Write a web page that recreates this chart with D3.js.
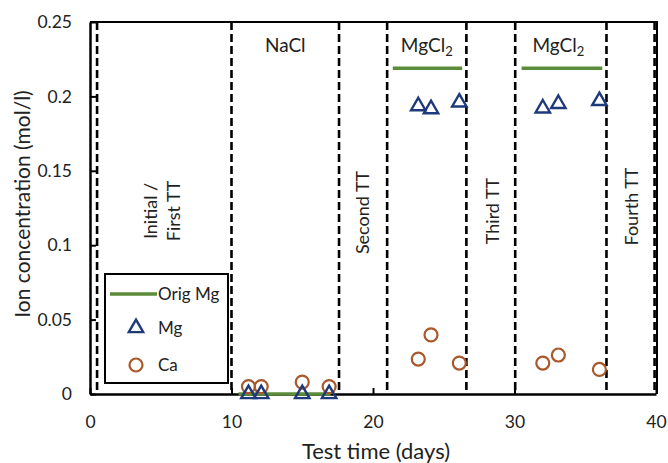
<!DOCTYPE html>
<html>
<head>
<meta charset="utf-8">
<script src="https://cdn.jsdelivr.net/npm/d3@7"></script>
<style>
  html, body { margin: 0; padding: 0; background: #fff; }
  svg { display: block; font-family: Lato, "Open Sans", sans-serif; }
</style>
</head>
<body>
<svg id="chart" width="668" height="463"></svg>
<script>
// Sampling days and measured ion concentrations (mol/l)
const days   = [11.2, 12.1, 15.0, 16.9, 23.2, 24.1, 26.1, 32.0, 33.1, 36.0];
const mgVals = [0, 0, 0, 0, 0.1935, 0.1915, 0.196, 0.192, 0.195, 0.197];
const caVals = [0.005, 0.005, 0.008, 0.005, 0.0235, 0.0397, 0.0208, 0.0208, 0.0262, 0.0165];

// Original Mg concentration of each bath: [start day, end day, value]
const origMg = [[10.5, 17.0, 0], [21.4, 26.3, 0.219], [30.5, 36.2, 0.219]];

// Phase boundaries (days)
const boundaries = [0.5, 10, 17.6, 21, 26.6, 30.05, 36.5, 39.9];

// Bath labels and test-treatment labels
const bathLabels = [{ text: "NaCl", day: 13.8 }, { text: "MgCl", sub: "2", day: 23.8 }, { text: "MgCl", sub: "2", day: 33.1 }];
const ttLabels = [
  { lines: ["Initial /", "First TT"], day: 5.1, mid: 0.123 },
  { lines: ["Second TT"], day: 19.3, mid: 0.122 },
  { lines: ["Third TT"], day: 28.5, mid: 0.123 },
  { lines: ["Fourth TT"], day: 38.3, mid: 0.126 }
];

const xTicks = [0, 10, 20, 30, 40];
const yTicks = [0, 0.05, 0.1, 0.15, 0.2, 0.25];

const colors = { orig: "#5b8c3a", mg: "#1f3a7a", ca: "#a8582a" };

const svg = d3.select("#chart");
const plotL = 90, plotR = 656, plotT = 22, plotB = 394;

const x = d3.scaleLinear().domain([0, 40]).range([plotL, plotR]);
const y = d3.scaleLinear().domain([0, 0.25]).range([plotB, plotT]);

// Phase boundaries
svg.append("g").selectAll("line").data(boundaries).join("line")
  .attr("x1", d => x(d)).attr("x2", d => x(d))
  .attr("y1", plotT).attr("y2", plotB)
  .attr("stroke", "#000").attr("stroke-width", 2.6)
  .attr("stroke-dasharray", "8,4");

// Frame (top and right)
svg.append("path")
  .attr("d", `M${plotL},${plotT}H${plotR + 1}V${plotB}`)
  .attr("fill", "none").attr("stroke", "#000").attr("stroke-width", 2);

// Axes with inward ticks
const xAxis = svg.append("g").attr("transform", `translate(0,${plotB})`)
  .call(d3.axisBottom(x).tickValues(xTicks).tickFormat(d3.format("d")).tickSizeInner(-6).tickSizeOuter(0).tickPadding(22));
const yAxis = svg.append("g").attr("transform", `translate(${plotL},0)`)
  .call(d3.axisLeft(y).tickValues(yTicks).tickFormat(d => d === 0 ? "0" : String(d)).tickSizeInner(-6).tickSizeOuter(0).tickPadding(18));
[xAxis, yAxis].forEach(g => {
  g.select(".domain").attr("stroke", "#000").attr("stroke-width", 2.5);
  g.selectAll(".tick line").attr("stroke", "#000").attr("stroke-width", 2);
  g.selectAll(".tick text").attr("fill", "#222").attr("font-size", 17.5).attr("font-family", "Lato, 'Open Sans', sans-serif");
});

// Axis titles
svg.append("text").attr("x", x(20) + 3).attr("y", 459)
  .attr("text-anchor", "middle").attr("font-size", 22).attr("fill", "#222")
  .text("Test time (days)");
svg.append("text").attr("transform", `translate(30,${(plotT + plotB) / 2 - 4}) rotate(-90)`)
  .attr("text-anchor", "middle").attr("font-size", 21).attr("fill", "#222")
  .text("Ion concentration (mol/l)");

// Original Mg segments
svg.append("g").selectAll("line").data(origMg).join("line")
  .attr("x1", d => x(d[0])).attr("x2", d => x(d[1]))
  .attr("y1", d => y(d[2])).attr("y2", d => y(d[2]))
  .attr("stroke", colors.orig).attr("stroke-width", 3.5);

// Ca markers
svg.append("g").selectAll("circle").data(days).join("circle")
  .attr("cx", d => x(d)).attr("cy", (d, i) => y(caVals[i])).attr("r", 6.5)
  .attr("fill", "none").attr("stroke", colors.ca).attr("stroke-width", 2.2);

// Mg markers
const tri = d3.symbol().type(d3.symbolTriangle).size(90);
svg.append("g").selectAll("path").data(days).join("path")
  .attr("transform", (d, i) => `translate(${x(d)},${y(mgVals[i])})`)
  .attr("d", tri)
  .attr("fill", "none").attr("stroke", colors.mg).attr("stroke-width", 2.4).attr("stroke-linejoin", "miter");

// Bath labels
bathLabels.forEach(b => {
  const t = svg.append("text").attr("x", x(b.day)).attr("y", 52)
    .attr("text-anchor", "middle").attr("font-size", 19).attr("fill", "#222");
  t.append("tspan").text(b.text);
  if (b.sub) t.append("tspan").attr("dy", 4).attr("font-size", 13).text(b.sub);
});

// Test treatment labels (rotated)
ttLabels.forEach(l => {
  const n = l.lines.length;
  l.lines.forEach((line, k) => {
    const cx = x(l.day) + (k - (n - 1) / 2) * 23;
    svg.append("text").attr("transform", `translate(${cx + 6},${y(l.mid)}) rotate(-90)`)
      .attr("text-anchor", "middle").attr("font-size", 18).attr("fill", "#222")
      .text(line);
  });
});

// Legend
const lg = svg.append("g");
lg.append("rect").attr("x", 105).attr("y", 274).attr("width", 123).attr("height", 109)
  .attr("fill", "#fff").attr("stroke", "#000").attr("stroke-width", 2);
lg.append("line").attr("x1", 110).attr("x2", 157).attr("y1", 294).attr("y2", 294)
  .attr("stroke", colors.orig).attr("stroke-width", 3.5);
lg.append("path").attr("transform", "translate(136,328)").attr("d", tri)
  .attr("fill", "none").attr("stroke", colors.mg).attr("stroke-width", 2.4);
lg.append("circle").attr("cx", 136).attr("cy", 365).attr("r", 6.5)
  .attr("fill", "none").attr("stroke", colors.ca).attr("stroke-width", 2.2);
[["Orig Mg", 300], ["Mg", 334], ["Ca", 371]].forEach(([t, yy]) => {
  lg.append("text").attr("x", 158).attr("y", yy).attr("font-size", 17).attr("fill", "#222").text(t);
});
</script>
</body>
</html>
